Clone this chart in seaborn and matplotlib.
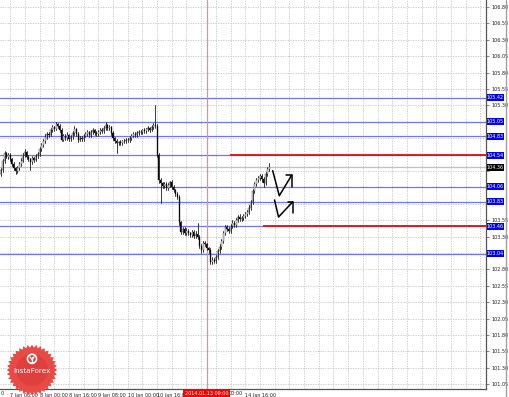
import numpy as np
import pandas as pd
import matplotlib
matplotlib.use("Agg")
import matplotlib.pyplot as plt
import matplotlib.transforms as mtransforms
from matplotlib.patches import Rectangle, Polygon, Circle
import seaborn as sns

# ---------------- data ----------------
first_open = 104.26
closes = [104.32, 104.45, 104.57, 104.52, 104.55, 104.48, 104.40, 104.34, 104.30, 104.35,
          104.40, 104.46, 104.55, 104.59, 104.52, 104.48, 104.44, 104.50, 104.47, 104.53,
          104.56, 104.63, 104.70, 104.76, 104.82, 104.87, 104.85, 104.93, 104.97, 104.94,
          105.01, 104.98, 104.93, 104.78, 104.83, 104.80, 104.85, 104.79, 104.82, 104.88,
          104.94, 104.86, 104.78, 104.81, 104.79, 104.84, 104.86, 104.89, 104.85, 104.90,
          104.92, 104.88, 104.86, 104.90, 104.93, 104.91, 104.96, 105.00, 104.95, 104.97,
          104.88, 104.80, 104.76, 104.72, 104.74, 104.73, 104.76, 104.75, 104.78, 104.77,
          104.81, 104.84, 104.87, 104.85, 104.88, 104.90, 104.89, 104.92, 104.91, 104.94,
          104.95, 104.93, 104.97, 105.00, 104.98, 104.55, 104.17, 104.12, 104.07, 104.10,
          104.04, 104.09, 104.13, 104.06, 104.01, 103.95, 103.90, 103.52, 103.37, 103.41,
          103.36, 103.39, 103.35, 103.33, 103.37, 103.31, 103.34, 103.29, 103.16, 103.10,
          103.20, 103.18, 103.12, 103.09, 102.92, 102.95, 102.93, 102.99, 103.08, 103.14,
          103.24, 103.35, 103.44, 103.41, 103.39, 103.46, 103.51, 103.47, 103.55, 103.60,
          103.57, 103.59, 103.62, 103.64, 103.67, 103.74, 103.83, 104.00, 104.10, 104.16,
          104.20, 104.22, 104.18, 104.12, 104.25, 104.33, 104.36]
upper_wick_pips = [3, 4, 4, 2, 3, 3, 2, 3, 2, 3,
                   3, 4, 3, 4, 2, 3, 2, 3, 2, 3,
                   3, 4, 3, 3, 4, 3, 2, 3, 3, 2,
                   3, 2, 3, 2, 3, 3, 4, 2, 3, 3,
                   4, 2, 3, 3, 2, 3, 3, 3, 2, 3,
                   3, 2, 3, 3, 2, 3, 3, 4, 2, 3,
                   2, 3, 2, 3, 2, 3, 2, 3, 2, 3,
                   3, 2, 3, 2, 3, 2, 3, 2, 3, 2,
                   3, 2, 3, 3, 31, 4, 3, 3, 2, 3,
                   3, 3, 2, 4, 3, 2, 3, 3, 2, 3,
                   3, 4, 3, 2, 3, 3, 4, 17, 3, 3,
                   4, 3, 3, 2, 3, 4, 3, 3, 3, 4,
                   3, 3, 3, 4, 3, 3, 4, 3, 3, 3,
                   4, 3, 3, 3, 3, 4, 3, 3, 4, 3,
                   3, 3, 4, 3, 3, 3, 6]
lower_wick_pips = [3, 3, 3, 2, 3, 3, 3, 2, 5, 3,
                   3, 2, 3, 3, 3, 2, 12, 3, 3, 2,
                   3, 3, 2, 3, 3, 3, 3, 2, 3, 3,
                   2, 3, 3, 3, 2, 3, 3, 3, 4, 3,
                   3, 3, 4, 3, 3, 3, 2, 3, 3, 3,
                   3, 3, 2, 3, 3, 3, 3, 3, 2, 3,
                   3, 3, 4, 15, 3, 3, 3, 2, 3, 3,
                   3, 3, 2, 3, 3, 3, 2, 3, 3, 3,
                   3, 3, 2, 3, 3, 4, 5, 31, 3, 3,
                   3, 3, 3, 4, 3, 3, 3, 5, 3, 3,
                   3, 3, 3, 3, 3, 3, 3, 3, 4, 5,
                   3, 3, 3, 4, 4, 3, 3, 3, 3, 3,
                   3, 3, 3, 3, 3, 3, 3, 3, 3, 3,
                   3, 3, 3, 3, 3, 3, 3, 3, 3, 3,
                   3, 3, 4, 6, 3, 3, 3]

levels = [105.42, 105.05, 104.83, 104.54, 104.06, 103.83, 103.46, 103.04]
level_labels = ["105.42", "105.05", "104.83", "104.54", "104.06", "103.83", "103.46", "103.04"]
red_levels = [104.54, 103.46]
red_level_start = [124.7, 142.7]
current_price = 104.36
current_label = "104.36"

tick_bars = [5, 21, 37, 53, 69, 85, 101, 117, 133]
tick_labels = ["7 Jan 08:00", "8 Jan 00:00", "8 Jan 16:00", "9 Jan 08:00", "10 Jan 00:00",
               "10 Jan 16:00", "13 Jan 08:00", "14 Jan 00:00", "14 Jan 16:00"]
edge_label = "0"
vline_bar = 112
vline_label = "2014.01.13 09:00"

arrow1_x = [147.9, 151.5, 158.3]
arrow1_y = [104.305, 103.923, 104.239]
arrow1_head_x = [155.2, 158.3, 158.3]
arrow1_head_y = [104.239, 104.239, 104.06]
arrow2_x = [148.9, 151.1, 158.7]
arrow2_y = [103.858, 103.599, 103.827]
arrow2_head_x = [156.0, 158.7, 158.7]
arrow2_head_y = [103.827, 103.827, 103.66]

# ---------------- build frames ----------------
n = len(closes)
bars = np.arange(n)
opens = [first_open] + closes[:-1]
highs = [max(o, c) + u / 100 for o, c, u in zip(opens, closes, upper_wick_pips)]
lows = [min(o, c) - l / 100 for o, c, l in zip(opens, closes, lower_wick_pips)]
wick_df = pd.DataFrame({
    "bar": np.concatenate([bars, bars]),
    "price": np.concatenate([highs, lows]),
})

# ---------------- figure ----------------
sns.set_style("white")
FONT = ["Liberation Sans Narrow", "DejaVu Sans"]
plt.rcParams["font.family"] = FONT
W, H = 510, 397
fig = plt.figure(figsize=(W / 100, H / 100), dpi=100)
ax = fig.add_axes([0, 8 / H, 486 / W, 389 / H])

xmin, xmax = -0.5, 264.0
ymin, ymax = 100.977, 106.907
ax.set_xlim(xmin, xmax)
ax.set_ylim(ymin, ymax)

LS = 3.5
# grid and ticks
yticks = np.round(np.arange(101.05, 106.81, 0.25), 2)
boxed = levels + [current_price]
ylabels = ["" if min(abs(t - b) for b in boxed) < 0.065 else f"{t:.2f}" for t in yticks]
ax.set_yticks(yticks)
ax.set_yticklabels(ylabels)
ax.yaxis.tick_right()
ax.set_xticks(tick_bars)
ax.set_xticklabels(["" if abs(b - vline_bar) < 12 else lab
                    for b, lab in zip(tick_bars, tick_labels)], ha="left")
ax.grid(False)
for g in np.arange(-3, 264, 8):
    ax.axvline(g, color="#c4c4c4", lw=0.6, ls=(0, (1.5, 1.5)), zorder=0)
for t in yticks:
    ax.axhline(t, color="#c4c4c4", lw=0.6, ls=(0, (1.5, 1.5)), zorder=0)

ax.tick_params(axis="y", which="major", labelsize=LS, length=2.5, width=0.5,
               color="#555555", pad=1.2, labelcolor="#222222")
ax.tick_params(axis="x", which="major", labelsize=LS, length=2.5, width=0.5,
               color="#555555", pad=0.6, labelcolor="#222222")
for s in ["left", "top"]:
    ax.spines[s].set_visible(False)
for s in ["right", "bottom"]:
    ax.spines[s].set_color("#555555")
    ax.spines[s].set_linewidth(0.9)

# level lines
for lv in levels:
    ax.axhline(lv, color="#7272f4", lw=0.9, zorder=1)
ax.axhline(current_price, color="#c2c2c2", lw=0.9, zorder=1)
for lv, st in zip(red_levels, red_level_start):
    ax.hlines(lv, st, xmax, color="#e01010", lw=1.3, zorder=2)
ax.axvline(vline_bar, color="#f08a8a", lw=0.9, zorder=1)

# candles
sns.lineplot(data=wick_df, x="bar", y="price", units="bar", estimator=None,
             color="#1a1a1a", linewidth=0.6, ax=ax, legend=False, zorder=3)
body_bottom = [min(o, c) for o, c in zip(opens, closes)]
body_h = [max(abs(c - o), 0.006) for o, c in zip(opens, closes)]
body_col = ["white" if c >= o else "black" for o, c in zip(opens, closes)]
ax.bar(bars, body_h, bottom=body_bottom, width=0.55, color=body_col,
       edgecolor="#1a1a1a", linewidth=0.25, zorder=4)
ax.set_xlabel("")
ax.set_ylabel("")

# hand-drawn arrows
for xs, ys in [(arrow1_x, arrow1_y), (arrow1_head_x, arrow1_head_y),
               (arrow2_x, arrow2_y), (arrow2_head_x, arrow2_head_y)]:
    ax.plot(xs, ys, color="black", lw=1.1, zorder=5, solid_capstyle="round",
            solid_joinstyle="round")

# right-hand price boxes
trans_y = mtransforms.blended_transform_factory(ax.transAxes, ax.transData)
box_w = 17 / 486
box_h = 7 / 65.6
for lv, lab in zip(levels, level_labels):
    ax.add_patch(Rectangle((1.002, lv - box_h / 2), box_w, box_h, transform=trans_y,
                           fc="#0000f0", ec="none", clip_on=False, zorder=10))
    ax.text(1.002 + box_w / 2, lv, lab, transform=trans_y, ha="center", va="center",
            fontsize=LS, color="white", clip_on=False, zorder=11)
ax.add_patch(Rectangle((1.002, current_price - box_h / 2), box_w, box_h, transform=trans_y,
                       fc="black", ec="none", clip_on=False, zorder=10))
ax.text(1.002 + box_w / 2, current_price, current_label, transform=trans_y, ha="center",
        va="center", fontsize=LS, color="white", clip_on=False, zorder=11)

# bottom time box on the red line
trans_x = mtransforms.blended_transform_factory(ax.transData, ax.transAxes)
ax.text(vline_bar, -4.5 / 389, vline_label, transform=trans_x, ha="center", va="center",
        fontsize=LS, color="white", clip_on=False, zorder=11,
        bbox=dict(boxstyle="square,pad=0.35", fc="#ff0000", ec="none"))
# partially hidden labels next to the red box
ax.text(117.3 + 6.6, -4.5 / 389, "00:00", transform=trans_x, ha="left", va="center",
        fontsize=LS, color="#222222", clip_on=False, zorder=9)
ax.text(0.001, -4.5 / 389, edge_label, transform=ax.transAxes,
        ha="left", va="center", fontsize=LS, color="#222222", clip_on=False)

# window border at the right
fig.add_artist(plt.Line2D([506 / W, 506 / W], [0, 1], color="#a0a0a0", lw=1.0))

# InstaForex logo
lax = fig.add_axes([(32 - 28) / W, (H - 370 - 28) / H, 56 / W, 56 / H])
lax.set_xlim(-1.05, 1.05)
lax.set_ylim(-1.05, 1.05)
lax.set_aspect("equal")
lax.axis("off")
teeth = 36
ang = np.linspace(0, 2 * np.pi, 2 * teeth, endpoint=False)
rad = np.where(np.arange(2 * teeth) % 2 == 0, 0.95, 0.84)
lax.add_patch(Polygon(np.c_[rad * np.cos(ang), rad * np.sin(ang)], closed=True,
                      fc="#e84a46", ec="none"))
lax.add_patch(Circle((0, 0), 0.6, fc="#d93a38", ec="none", alpha=0.6))
lax.add_patch(Circle((0, 0.42), 0.17, fc="none", ec="white", lw=1.2))
lax.plot([0, 0], [0.28, 0.5], color="white", lw=1.0)
lax.plot([-0.08, 0, 0.08], [0.5, 0.38, 0.5], color="white", lw=0.8)
lax.text(0, -0.05, "InstaForex", ha="center", va="center", fontsize=5.2, color="white",
         family=["DejaVu Sans"])

fig.savefig("out.png", dpi=100)
